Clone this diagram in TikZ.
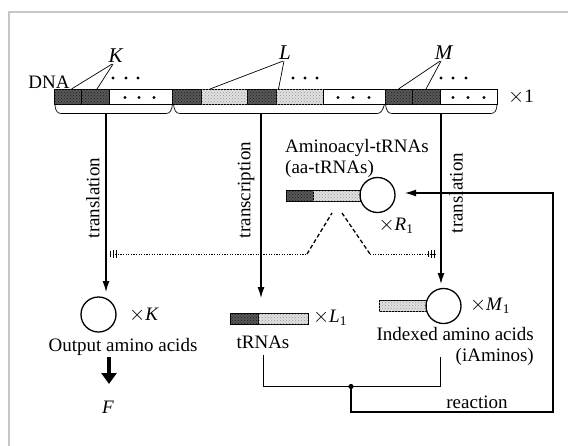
\documentclass[tikz,border=0pt]{standalone}
\usepackage{fontspec}
\setmainfont{Liberation Serif}
\usetikzlibrary{arrows.meta,patterns,calc}
\newcommand{\bigx}{{\fontsize{22}{22}\selectfont$\times$}}
\begin{document}
\begin{tikzpicture}[x=1pt,y=-1pt,
  font=\fontsize{19}{21}\selectfont,
  seg/.style={draw,line width=0.6pt,minimum height=15pt,inner sep=0pt,outer sep=0pt},
  dk/.style={seg,fill=black!66,postaction={pattern=crosshatch dots,pattern color=black!88}},
  lt/.style={seg,fill=black!12,postaction={pattern=crosshatch dots,pattern color=black!40}},
  wt/.style={seg,fill=white},
  bar/.style={minimum height=11pt},
  ball/.style={draw,circle,line width=1.3pt,minimum size=35pt,inner sep=0pt},
  thin/.style={line width=0.7pt},
  arr/.style={line width=1.3pt,-{Latex[length=11pt,width=7pt]}},
  brc/.style={line width=0.7pt},
  dotln/.style={line width=0.9pt,dash pattern=on 1.2pt off 1.4pt},
  dashln/.style={line width=1.3pt,dash pattern=on 4pt off 2.5pt},
  lbl/.style={inner sep=1pt},
  big/.style={inner sep=1pt,font=\fontsize{21}{21}\selectfont},
  endmk/.style={line width=0.9pt}
]
\useasboundingbox (0,0) rectangle (568,445);
\clip (0,0) rectangle (568,445);
\draw[black!22,line width=1.3pt] (9,12) rectangle (640,520);

% DNA strip
\node[dk,minimum width=27pt] (d1) at (67.5,96.5) {};
\node[dk,minimum width=28pt] (d2) at (95,96.5) {};
\node[wt,minimum width=63pt] (w1) at (140.5,96.5) {};
\node[dk,minimum width=29pt] (d3) at (186.5,96.5) {};
\node[lt,minimum width=46pt] (l1) at (224,96.5) {};
\node[dk,minimum width=29pt] (d4) at (261.5,96.5) {};
\node[lt,minimum width=47pt] (l2) at (299.5,96.5) {};
\node[wt,minimum width=62pt] (w2) at (354,96.5) {};
\node[dk,minimum width=27pt] (d5) at (398.5,96.5) {};
\node[dk,minimum width=28pt] (d6) at (426,96.5) {};
\node[wt,minimum width=57pt] (w3) at (468.5,96.5) {};
\foreach \x in {125,139,154,338,353,369,453,468,484} \fill (\x,97.5) circle (1.6pt);
\foreach \x in {113,126,138,293,305,317,441,453,466} \fill (\x,78) circle (1.6pt);

\node[lbl] (dna) at (49,82) {DNA};
\node[big] (K) at (116,56) {\textit{K}};
\node[big] (L) at (285,53) {\textit{L}};
\node[big] (M) at (444,53) {\textit{M}};
\node[lbl] (x1) at (521,97) {\bigx1};

\draw[thin] ([xshift=-4pt]K.south) -- ([xshift=4pt]d1.north);
\draw[thin] ([xshift=-3pt]K.south) -- ([xshift=2pt]d2.north);
\draw[thin] ([xshift=-2pt]L.south) -- ([xshift=-14pt]l1.north);
\draw[thin] ([xshift=-1pt]L.south) -- ([xshift=-21pt]l2.north);
\draw[thin] ([xshift=-4pt]M.south) -- ([xshift=0pt]d5.north);
\draw[thin] ([xshift=-3pt]M.south) -- ([xshift=0pt]d6.north);

% braces
\draw[brc] (55,104) .. controls (55,110) and (57,113.5) .. (61,113.5) -- (166,113.5) .. controls (170,113.5) and (172,110) .. (172.5,104);
\draw[brc] (173.5,104) .. controls (174,110) and (176,113.5) .. (180,113.5) -- (377,113.5) .. controls (381,113.5) and (383,110) .. (384.5,104);
\draw[brc] (385.5,104) .. controls (386,110) and (388,113.5) .. (392,113.5) -- (491,113.5) .. controls (495,113.5) and (497,110) .. (497,104);
\coordinate (b1) at (106,113.5);
\coordinate (b2) at (261,113.5);
\coordinate (b3) at (441,113.5);

% aa-tRNA
\node[lbl,anchor=west,align=left] (aat) at (284,158) {Aminoacyl-tRNAs\\(aa-tRNAs)};
\node[dk,bar,minimum width=27pt] (ab1) at (299.5,195.5) {};
\node[lt,bar,minimum width=47pt] (ab2) at (336.5,195.5) {};
\node[ball] (ac) at (377.5,195) {};
\node[lbl] (xr) at (396,226) {\bigx\textit{R}\textsubscript{1}};

% output amino acids
\node[ball] (oc) at (98.5,314.5) {};
\node[lbl] (xk) at (144,315) {\bigx\textit{K}};
\node[lbl] (oat) at (123,347) {Output amino acids};
\node[lbl] (F) at (108,407) {\textit{F}};
\coordinate (fa) at (109,357);
\coordinate (fb) at (109,384);
\draw[line width=4.5pt,-{Triangle[length=11pt,width=15pt]}] (fa) -- (fb);

% tRNAs
\node[dk,bar,minimum width=28pt] (tb1) at (244,319) {};
\node[lt,bar,minimum width=50pt] (tb2) at (283,319) {};
\node[lbl] (xl) at (330,318) {\bigx\textit{L}\textsubscript{1}};
\node[lbl] (trt) at (263,342) {tRNAs};

% indexed amino acids
\node[lt,bar,minimum width=47pt] (ib) at (402.5,306) {};
\node[ball] (ic) at (443.5,306) {};
\node[lbl] (xm) at (490,306) {\bigx\textit{M}\textsubscript{1}};
\node[lbl,align=right,anchor=north east] (iat) at (535,326) {Indexed amino acids\\(iAminos)};

% vertical arrows
\coordinate (e1) at (106,292);
\coordinate (e2) at (261,298);
\coordinate (e3) at (441,284);
\draw[arr] (b1) -- (e1);
\draw[arr] (b2) -- (e2);
\draw[arr] (b3) -- (e3);
\node[lbl,rotate=90] (t1) at (93,198) {translation};
\node[lbl,rotate=90] (t2) at (246,190) {transcription};
\node[lbl,rotate=90] (t3) at (456,193) {translation};

% dotted competition line
\coordinate (dl) at (110,254);
\coordinate (p1) at (307,254);
\coordinate (p2) at (332,213);
\coordinate (p3) at (342,213);
\coordinate (p4) at (370,254);
\coordinate (dr) at (437,254);
\draw[dotln] (dl) -- (p1);
\draw[dashln] (p1) -- (p2);
\draw[dashln] (p3) -- (p4);
\draw[dotln] (p4) -- (dr);
\draw[endmk] (110,251) -- (110,257) (113,250) -- (113,258) (116,250) -- (116,258);
\draw[endmk] (428,251) -- (428,257) (431,250) -- (431,258) (434,250) -- (434,258);

% reaction
\coordinate (jn) at (351,386.5);
\coordinate (ra) at (263,355);
\coordinate (rb) at (440,357);
\draw[line width=1pt] (ra) |- (jn) -| (rb);
\fill (jn) circle (2.6pt);
\coordinate (fe) at (405,193);
\draw[line width=1.2pt,-{Latex[length=11pt,width=7pt]}] (jn) |- (553,412) |- (fe);
\node[lbl] (rx) at (477,402) {reaction};
\end{tikzpicture}
\end{document}
